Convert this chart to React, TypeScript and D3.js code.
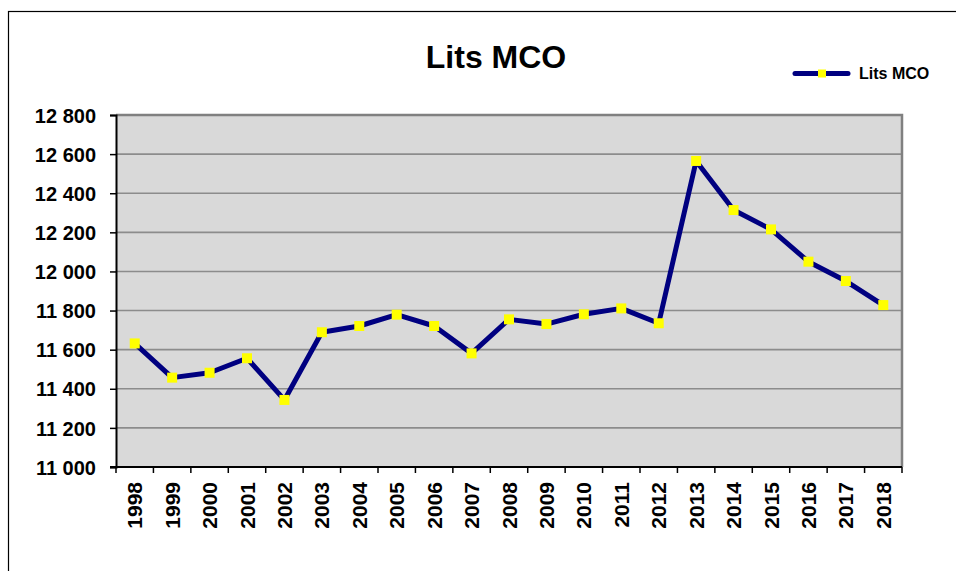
import React, { useRef, useEffect } from "react";
import * as d3 from "d3";

// Données
const years = [
  "1998", "1999", "2000", "2001", "2002", "2003", "2004", "2005", "2006", "2007",
  "2008", "2009", "2010", "2011", "2012", "2013", "2014", "2015", "2016", "2017", "2018",
];
const litsMco = [
  11632, 11457, 11482, 11556, 11343, 11689, 11721, 11779, 11721, 11581,
  11755, 11731, 11781, 11811, 11735, 12565, 12314, 12215, 12050, 11951, 11828,
];
const yTicks = [11000, 11200, 11400, 11600, 11800, 12000, 12200, 12400, 12600, 12800];

const FONT = "'Liberation Sans', Arial, sans-serif";

const App = () => {
  const ref = useRef<SVGSVGElement | null>(null);

  useEffect(() => {
    const width = 956;
    const height = 571;
    const plot = { left: 116, top: 115, right: 902, bottom: 467 };

    const svg = d3.select(ref.current);
    svg.selectAll("*").remove();

    // cadre extérieur
    svg
      .append("rect")
      .attr("x", 8.5)
      .attr("y", 11.5)
      .attr("width", width + 20)
      .attr("height", height + 20)
      .attr("fill", "white")
      .attr("stroke", "black")
      .attr("stroke-width", 1.2);

    const x = d3
      .scaleBand()
      .domain(years)
      .range([plot.left, plot.right])
      .paddingInner(0)
      .paddingOuter(0);

    const y = d3
      .scaleLinear()
      .domain([11000, 12800])
      .range([plot.bottom, plot.top]);

    // fond de la zone de traçage
    svg
      .append("rect")
      .attr("x", plot.left)
      .attr("y", plot.top)
      .attr("width", plot.right - plot.left)
      .attr("height", plot.bottom - plot.top)
      .attr("fill", "#d9d9d9");

    // quadrillage
    svg
      .append("g")
      .selectAll("line")
      .data(yTicks.slice(1, -1))
      .join("line")
      .attr("x1", plot.left)
      .attr("x2", plot.right)
      .attr("y1", (d) => y(d))
      .attr("y2", (d) => y(d))
      .attr("stroke", "#8c8c8c")
      .attr("stroke-width", 1.6);

    // bords haut et droit
    svg
      .append("path")
      .attr("d", `M${plot.left},${plot.top}H${plot.right}V${plot.bottom}`)
      .attr("fill", "none")
      .attr("stroke", "#808080")
      .attr("stroke-width", 2.5);

    // axe Y
    const yAxis = svg
      .append("g")
      .attr("transform", `translate(${plot.left},0)`)
      .call(
        d3
          .axisLeft(y)
          .tickValues(yTicks)
          .tickSize(6)
          .tickPadding(14)
          .tickFormat((d) => d3.format(",")(d as number).replace(",", " "))
      );
    yAxis.select(".domain").attr("stroke", "black").attr("stroke-width", 2);
    yAxis.selectAll(".tick line").attr("stroke", "black").attr("stroke-width", 1.5);
    yAxis
      .selectAll(".tick text")
      .attr("fill", "black")
      .attr("font-family", FONT)
      .attr("font-size", "20px")
      .attr("font-weight", "bold")
      .attr("dy", "0.36em");

    // axe X : graduations entre les catégories
    const xg = svg.append("g");
    xg.append("line")
      .attr("x1", plot.left - 6)
      .attr("x2", plot.right)
      .attr("y1", plot.bottom)
      .attr("y2", plot.bottom)
      .attr("stroke", "black")
      .attr("stroke-width", 2);
    const bounds = years.map((d) => x(d) as number).concat([plot.right]);
    xg.selectAll("line.tk")
      .data(bounds)
      .join("line")
      .attr("class", "tk")
      .attr("x1", (d) => d)
      .attr("x2", (d) => d)
      .attr("y1", plot.bottom)
      .attr("y2", plot.bottom + 6)
      .attr("stroke", "black")
      .attr("stroke-width", 1.5);
    xg.selectAll("text")
      .data(years)
      .join("text")
      .attr(
        "transform",
        (d) => `translate(${(x(d) as number) + x.bandwidth() / 2},${plot.bottom + 15}) rotate(-90)`
      )
      .attr("text-anchor", "end")
      .attr("dy", "0.36em")
      .attr("font-family", FONT)
      .attr("font-size", "21px")
      .attr("font-weight", "bold")
      .text((d) => d);

    // courbe
    const cx = (d: string) => (x(d) as number) + x.bandwidth() / 2;
    const line = d3
      .line<number>()
      .x((_, i) => cx(years[i]))
      .y((d) => y(d));

    svg
      .append("path")
      .datum(litsMco)
      .attr("d", line)
      .attr("fill", "none")
      .attr("stroke", "#000080")
      .attr("stroke-width", 5)
      .attr("stroke-linejoin", "round");

    const m = 10;
    svg
      .append("g")
      .selectAll("rect")
      .data(litsMco)
      .join("rect")
      .attr("x", (_, i) => cx(years[i]) - m / 2)
      .attr("y", (d) => y(d) - m / 2)
      .attr("width", m)
      .attr("height", m)
      .attr("fill", "#ffff00");

    // titre
    svg
      .append("text")
      .attr("x", 496)
      .attr("y", 68)
      .attr("text-anchor", "middle")
      .attr("font-family", FONT)
      .attr("font-size", "32px")
      .attr("font-weight", "bold")
      .text("Lits MCO");

    // légende
    const lg = svg.append("g");
    lg.append("line")
      .attr("x1", 795)
      .attr("x2", 848)
      .attr("y1", 73.5)
      .attr("y2", 73.5)
      .attr("stroke", "#000080")
      .attr("stroke-width", 5)
      .attr("stroke-linecap", "round");
    lg.append("rect")
      .attr("x", 818)
      .attr("y", 69.5)
      .attr("width", 8)
      .attr("height", 8)
      .attr("fill", "#ffff00");
    lg.append("text")
      .attr("x", 859)
      .attr("y", 79)
      .attr("font-family", FONT)
      .attr("font-size", "16px")
      .attr("font-weight", "bold")
      .text("Lits MCO");
  }, []);

  return (
    <svg
      ref={ref}
      width={956}
      height={571}
      style={{ position: "absolute", left: 0, top: 0 }}
    />
  );
};

export default App;
